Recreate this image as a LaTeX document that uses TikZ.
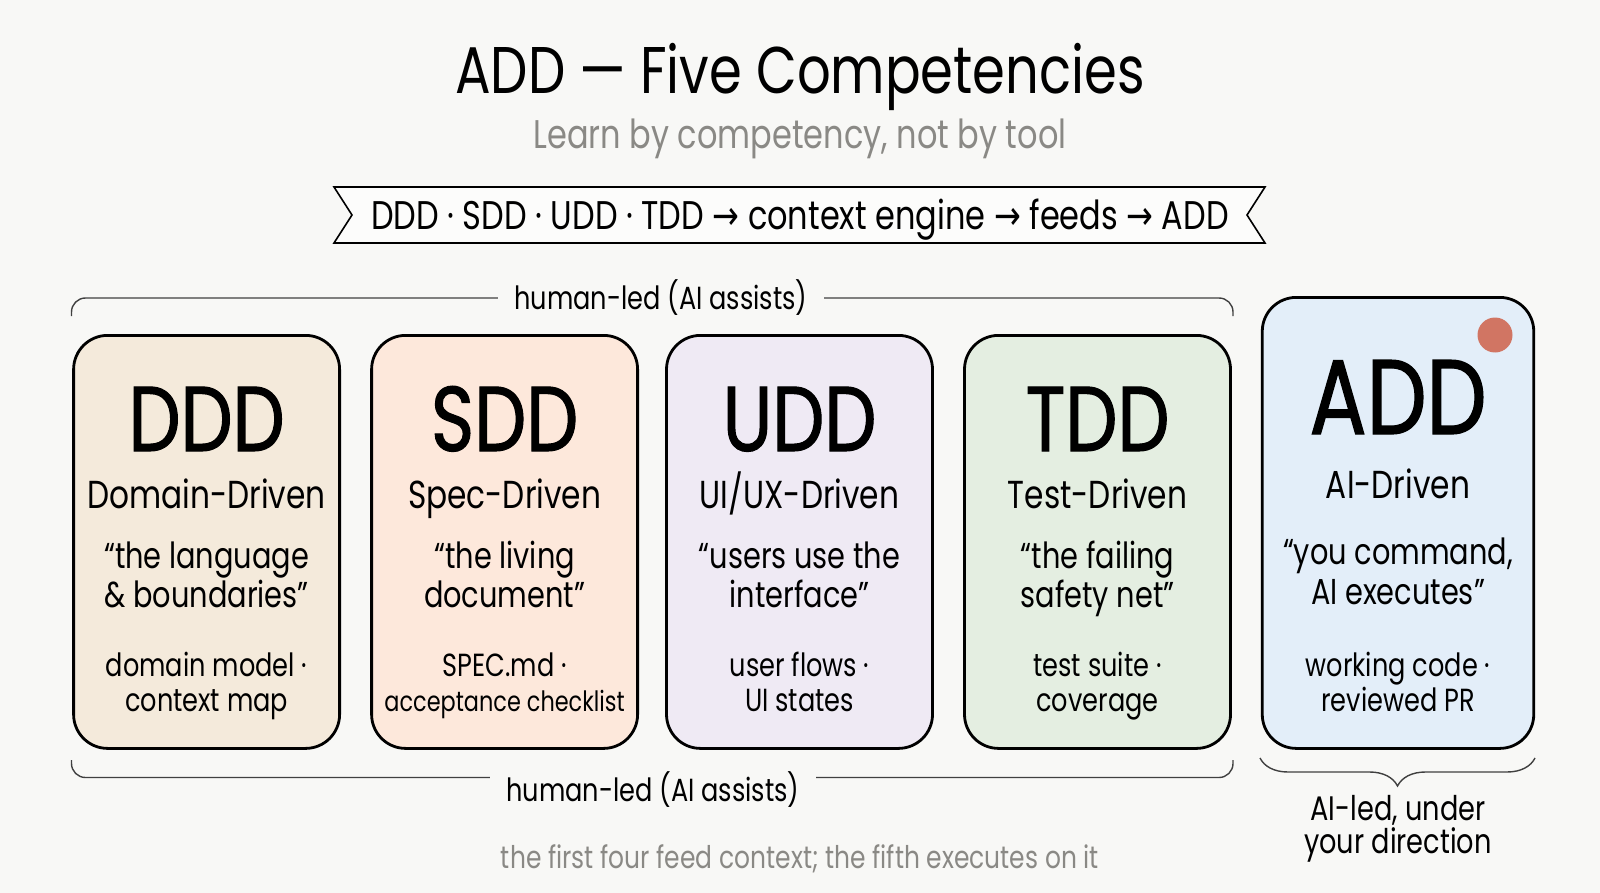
\documentclass[tikz,border=0pt]{standalone}
\usepackage{fontspec}
\setmainfont{Poppins}[FakeStretch=0.8]
\newfontfamily\symf{DejaVu Sans}[FakeStretch=0.8]
\newfontfamily\heavyf{Poppins}[FakeStretch=0.8, FakeBold=1.2]
\usetikzlibrary{decorations.pathreplacing}
\definecolor{bg}{HTML}{F8F8F6}
\definecolor{graytxt}{HTML}{8A8985}
\definecolor{cddd}{HTML}{F4EADB}
\definecolor{csdd}{HTML}{FDE8DB}
\definecolor{cudd}{HTML}{EFEAF4}
\definecolor{ctdd}{HTML}{E4EEE1}
\definecolor{cadd}{HTML}{E3EEF9}
\definecolor{dotred}{HTML}{D17563}
\newcommand\fsz[1]{\fontsize{#1pt}{#1pt}\selectfont}
\tikzset{
  card/.style={draw=black, line width=1.4pt, rounded corners=17pt, minimum width=133pt, anchor=north},
  big/.style={anchor=base, font=\heavyf\fsz{46}},
  sub/.style={anchor=base, font=\fsz{19.5}},
  quo/.style={anchor=base, font=\fsz{18}},
  art/.style={anchor=base, font=\fsz{16}},
  lab/.style={anchor=base, font=\fsz{16}, inner xsep=8pt},
  brk/.style={draw=black!75, line width=0.7pt, rounded corners=7pt},
}
\begin{document}
\begin{tikzpicture}[x=0.5pt,y=-0.5pt]
\useasboundingbox (0,0) rectangle (1600,893);
\fill[bg] (0,0) rectangle (1600,893);

% title
\node[anchor=base, font=\fsz{33}] (title) at (800,94) {ADD — Five Competencies};
\node[anchor=base, font=\fsz{20}, text=graytxt] (subtitle) at (800,149) {Learn by competency, not by tool};

% banner
\draw[line width=0.8pt, fill=white!60!bg] (334,187) -- (1265,187) -- (1247,215) -- (1265,243) -- (334,243) -- (352,215) -- cycle;
\node[anchor=base, font=\fsz{20}] (banner) at (800,229.6) {DDD · SDD · UDD · TDD {\symf→} context engine {\symf→} feeds {\symf→} ADD};

% top bracket
\node[lab] (toplab) at (661,309) {human-led (AI assists)};
\coordinate (tl) at (71.5,316);
\coordinate (tr) at (1233,316);
\coordinate (tlh) at (toplab.west |- 0,298);
\coordinate (trh) at (toplab.east |- 0,298);
\draw[brk] (tl) |- (tlh);
\draw[brk] (tr) |- (trh);

% cards
\node[card, fill=cddd, minimum height=206.5pt] (ddd) at (206.6,334) {};
\node[card, fill=csdd, minimum height=206.5pt] (sdd) at (504.6,334) {};
\node[card, fill=cudd, minimum height=206.5pt] (udd) at (799.5,334) {};
\node[card, fill=ctdd, minimum height=206.5pt] (tdd) at (1097.5,334) {};
\node[card, fill=cadd, minimum height=225.5pt, minimum width=135.75pt] (add) at (1398,296) {};
\fill[dotred] (1495,335) circle[radius=8.75pt];

% DDD
\node[big] (d1) at (206.6,451) {DDD};
\node[sub] (d2) at (206.6,508) {Domain-Driven};
\node[quo] (d3) at (206.6,568) {“the language};
\node[quo] (d4) at (206.6,607) {\& boundaries”};
\node[art] (d5) at (206.6,676.5) {domain model ·};
\node[art] (d6) at (206.6,711) {context map};
% SDD
\node[big] (s1) at (504.6,451) {SDD};
\node[sub] (s2) at (504.6,508) {Spec-Driven};
\node[quo] (s3) at (504.6,568) {“the living};
\node[quo] (s4) at (504.6,607) {document”};
\node[art] (s5) at (504.6,676.5) {SPEC.md ·};
\node[art, font=\fsz{14}] (s6) at (504.6,711) {acceptance checklist};
% UDD
\node[big] (u1) at (799.5,451) {UDD};
\node[sub] (u2) at (799.5,508) {UI/UX-Driven};
\node[quo] (u3) at (799.5,568) {“users use the};
\node[quo] (u4) at (799.5,607) {interface”};
\node[art] (u5) at (799.5,676.5) {user flows ·};
\node[art] (u6) at (799.5,711) {UI states};
% TDD
\node[big] (t1) at (1097.5,451) {TDD};
\node[sub] (t2) at (1097.5,508) {Test-Driven};
\node[quo] (t3) at (1097.5,568) {“the failing};
\node[quo] (t4) at (1097.5,607) {safety net”};
\node[art] (t5) at (1097.5,676.5) {test suite ·};
\node[art] (t6) at (1097.5,711) {coverage};
% ADD
\node[big, font=\heavyf\fsz{53}] (a1) at (1398,434) {ADD};
\node[sub] (a2) at (1398,498) {AI-Driven};
\node[quo] (a3) at (1398,564) {“you command,};
\node[quo] (a4) at (1398,604) {AI executes”};
\node[art] (a5) at (1398,676.5) {working code ·};
\node[art] (a6) at (1398,711) {reviewed PR};

% bottom bracket
\node[lab] (botlab) at (653,801) {human-led (AI assists)};
\coordinate (bl) at (71.5,760);
\coordinate (br) at (1233,760);
\coordinate (blh) at (botlab.west |- 0,777.5);
\coordinate (brh) at (botlab.east |- 0,777.5);
\draw[brk] (bl) |- (blh);
\draw[brk] (br) |- (brh);

% right brace
\coordinate (rbl) at (1260,758);
\coordinate (rbr) at (1535,758);
\draw[draw=black!75, line width=0.7pt, decorate, decoration={brace, mirror, amplitude=14pt}] (rbl) -- (rbr);
\node[art, font=\fsz{17}] (ai1) at (1398,820) {AI-led, under};
\node[art, font=\fsz{17}] (ai2) at (1398,853) {your direction};

% footnote
\node[anchor=base, font=\fsz{15.6}, text=graytxt] (foot) at (800,868) {the first four feed context; the fifth executes on it};
\end{tikzpicture}
\end{document}
